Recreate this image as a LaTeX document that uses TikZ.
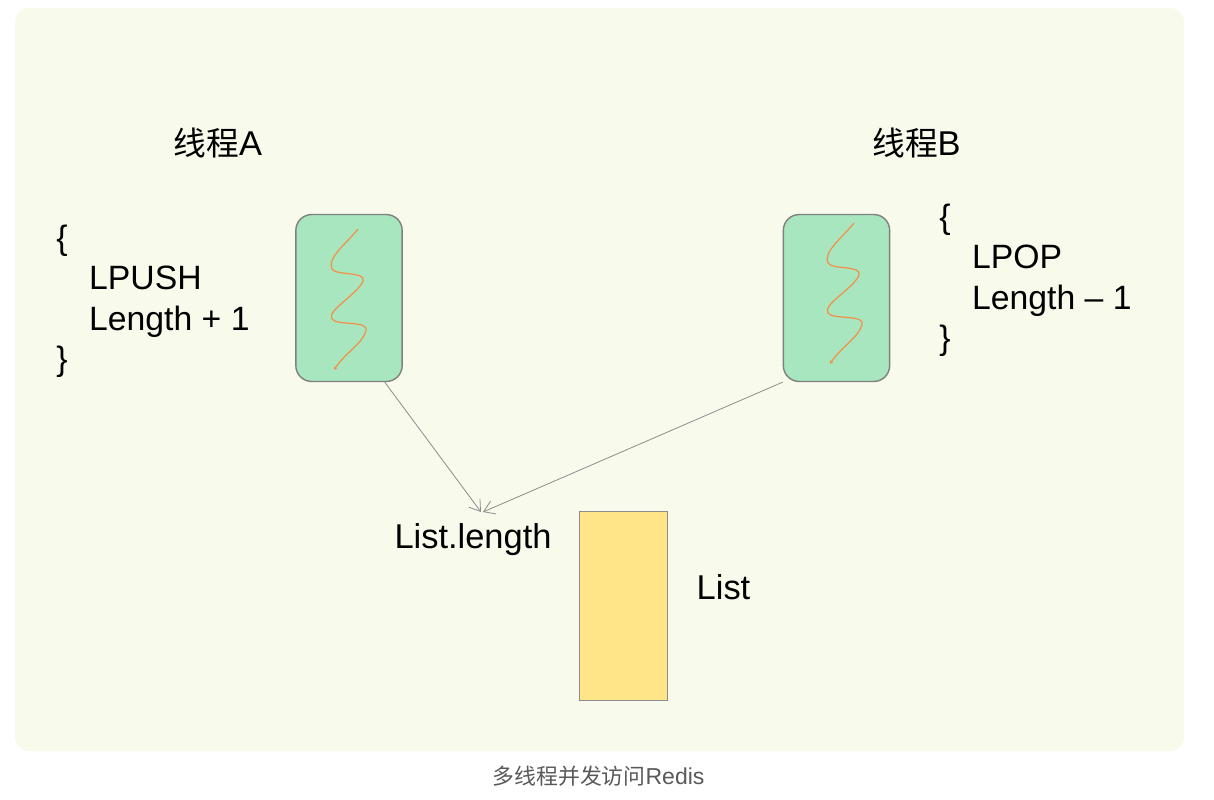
\documentclass[tikz,border=0pt]{standalone}
\usepackage{fontspec}
\setmainfont{Liberation Sans}
\newfontfamily\cjk[Scale=0.95]{Noto Sans CJK SC}
\usetikzlibrary{arrows.meta}
\tikzset{>={Straight Barb[length=6pt,width=8pt]}}
\definecolor{panelbg}{HTML}{F8FAEC}
\definecolor{threadfill}{HTML}{A8E6C0}
\definecolor{listfill}{HTML}{FFE588}
\definecolor{waveline}{HTML}{F2904A}
\tikzset{
  label/.style={inner sep=0pt,font=\fontsize{19.6}{23}\selectfont},
  code/.style={label,align=left,anchor=north west,font=\fontsize{19.2}{23}\selectfont},
  thread/.style={draw=black!50,fill=threadfill,rounded corners=9pt,line width=0.8pt,minimum width=60.5pt,minimum height=95pt,inner sep=0pt},
  wave/.style={waveline,line width=0.7pt},
  link/.style={->,draw=black!45,line width=0.45pt}
}
\newcommand{\Wave}[2]{%
  \draw[wave,shift={(#1,#2)},-{Stealth[length=2pt,width=2pt]}] (358,229)
    .. controls (345,245) and (327,258) .. (332,269)
    .. controls (336,276) and (366,271) .. (363,281)
    .. controls (358,294) and (326,311) .. (332,319)
    .. controls (336,326) and (370,320) .. (366,331)
    .. controls (362,344) and (345,353) .. (334,370);
}

\begin{document}
\begin{tikzpicture}[x=0.02cm,y=-0.02cm]
  \useasboundingbox (0,0) rectangle (1214,800);
  \fill[panelbg,rounded corners=8pt] (15,8) rectangle (1184,751);
  \node[label] (nameA) at (218,143.5) {{\cjk 线程}A};
  \node[label] (nameB) at (916.5,143.5) {{\cjk 线程}B};
  \node[code] (codeA) at (56,224.5) {\{\\\hspace*{18.7pt}LPUSH\\\hspace*{18.7pt}Length + 1\\\}};
  \node[code] (codeB) at (939,203.5) {\{\\\hspace*{18.7pt}LPOP\\\hspace*{18.7pt}Length -- 1\\\}};
  \node[thread] (threadA) at (349,298) {};
  \node[thread] (threadB) at (836.5,298) {};
  \Wave{0}{0}
  \Wave{496}{-6}
  \node[label] (listlen) at (473,540) {List.length};
  \coordinate (lentopA) at (481,512);
  \coordinate (lentopB) at (483,512);
  \node[draw=black!45,fill=listfill,line width=0.5pt,minimum width=49.9pt,minimum height=107.5pt,inner sep=0pt] (listbox) at (623.5,606) {};
  \node[label] (listname) at (723.5,587) {List};
  \draw[link] (threadA.-67.4) -- (lentopA);
  \draw[link] (threadB.south west) -- (lentopB);
  \node[inner sep=0pt,text=black!65,font=\fontsize{13.1}{15}\selectfont] (caption) at (598.5,776) {{\cjk 多线程并发访问}Redis};
\end{tikzpicture}
\end{document}
